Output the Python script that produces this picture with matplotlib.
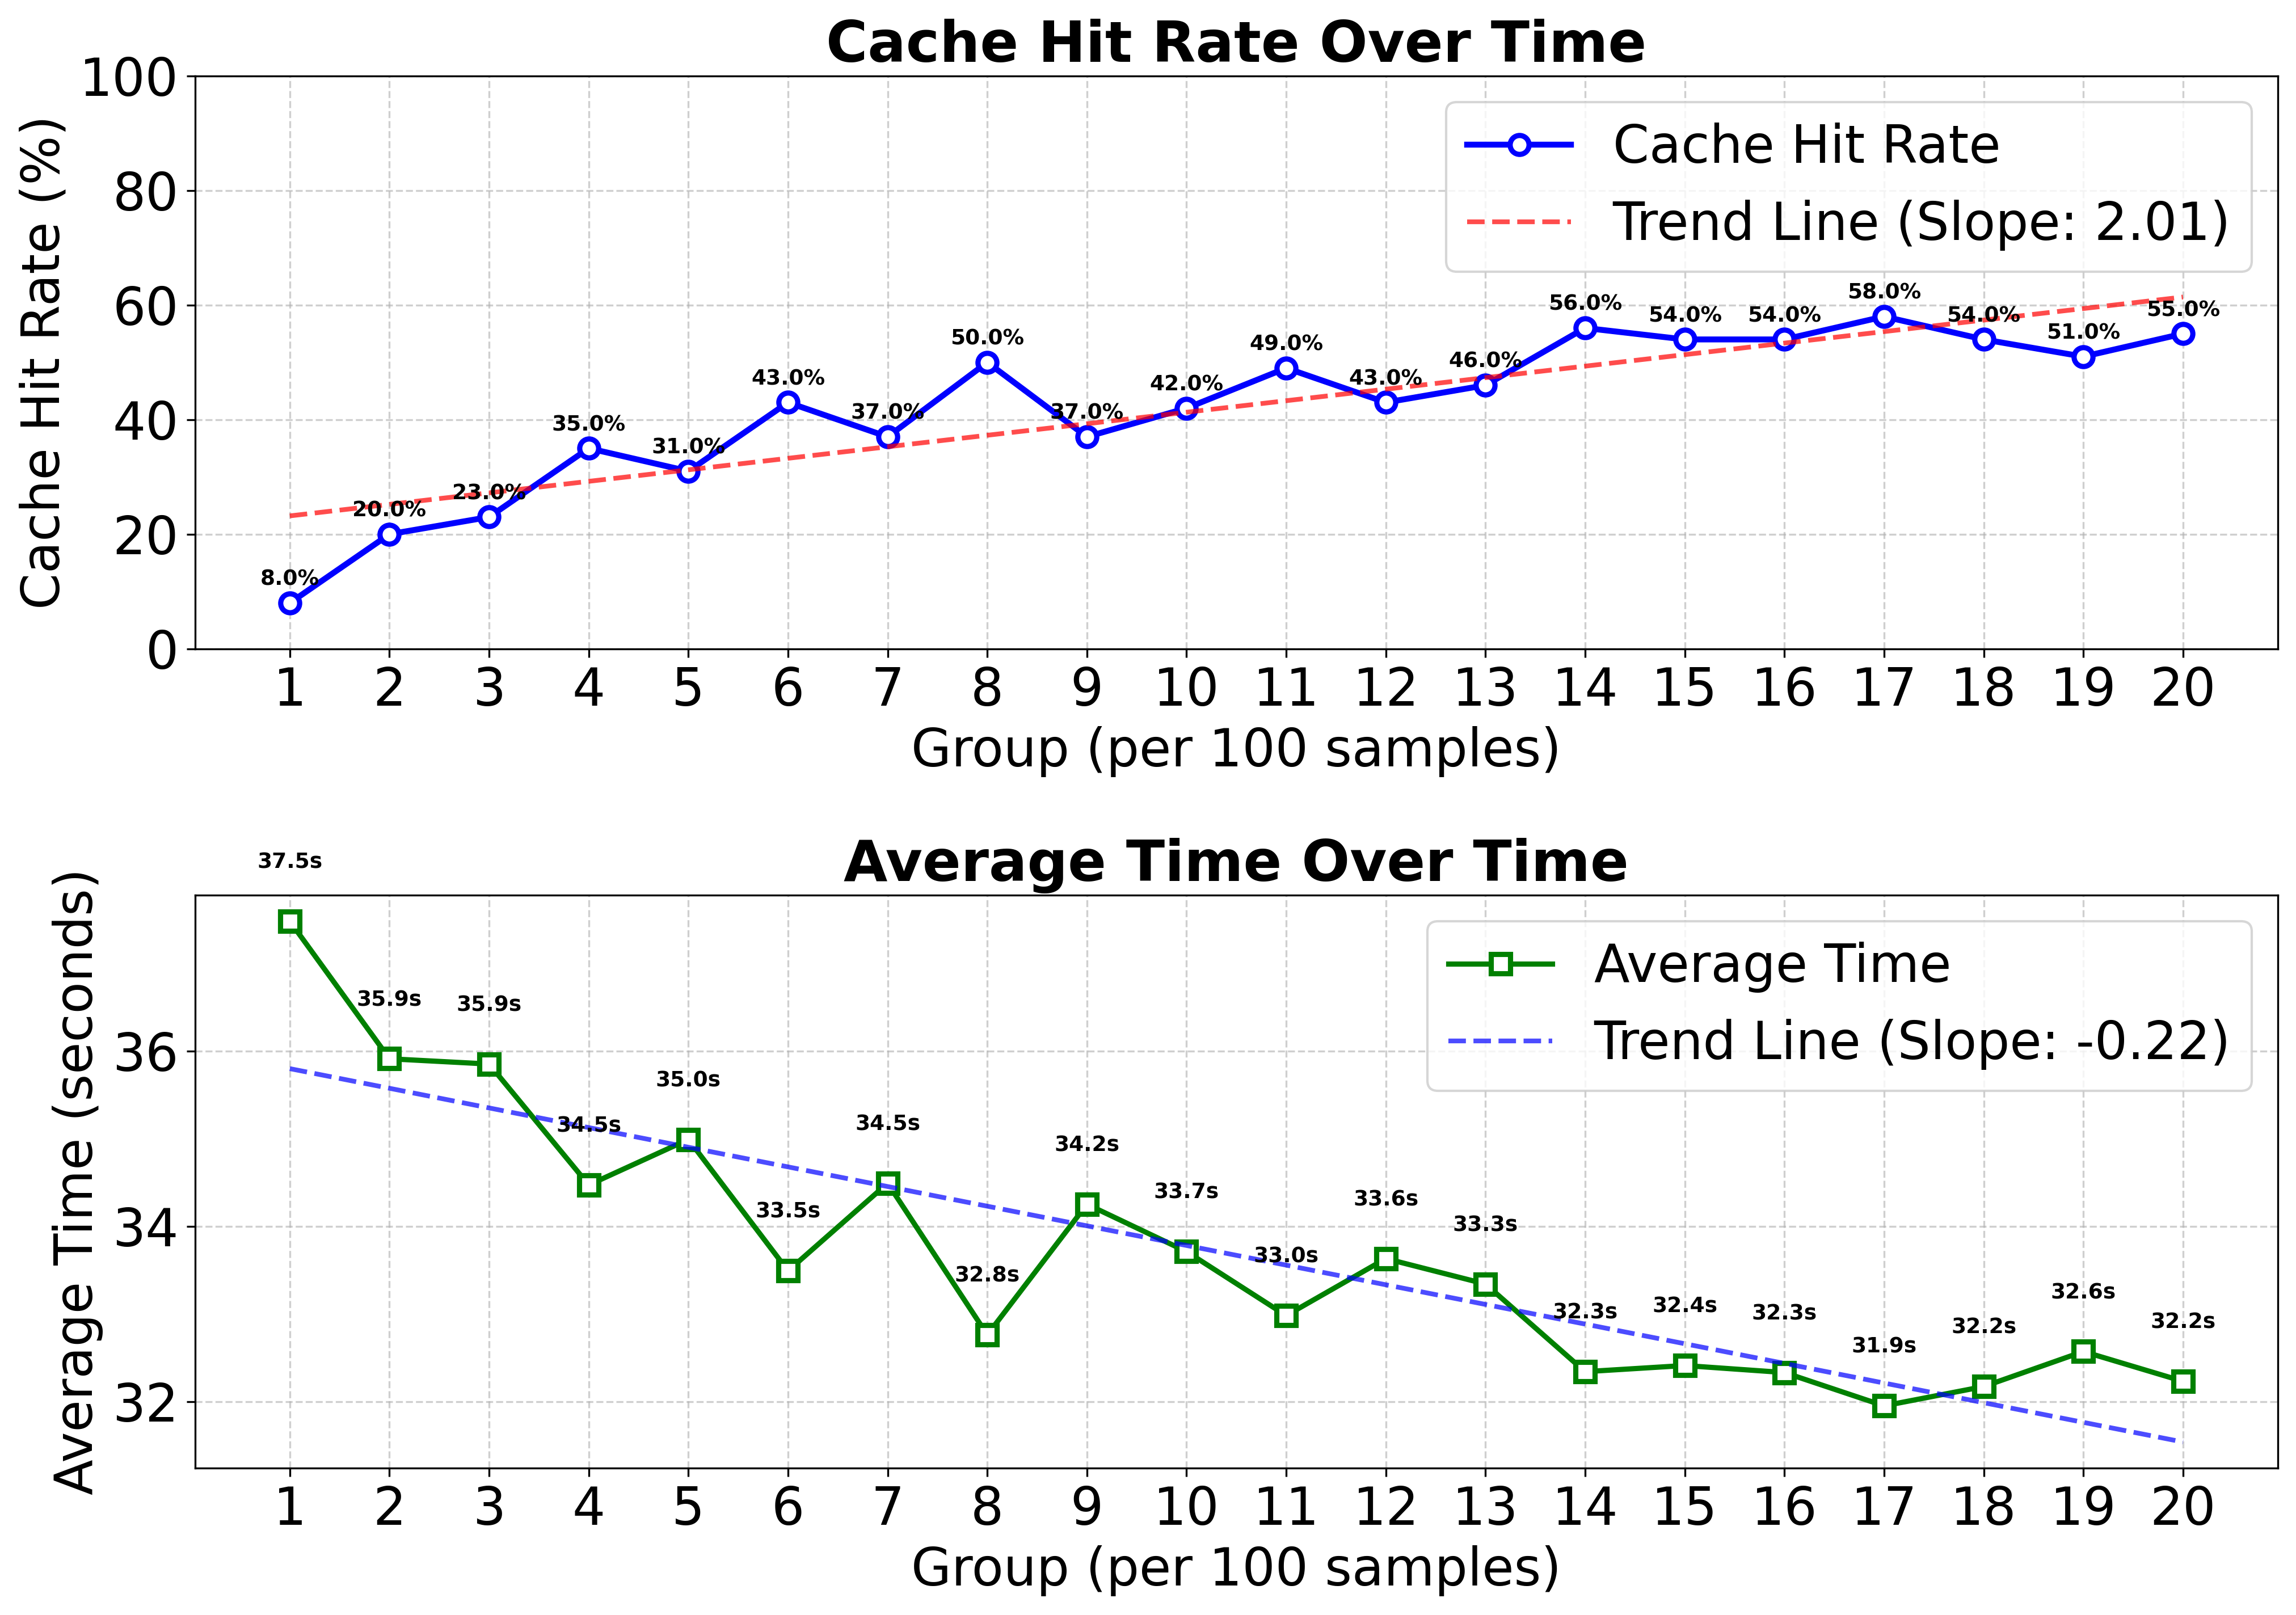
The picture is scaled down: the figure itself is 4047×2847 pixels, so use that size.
import numpy as np
import matplotlib
matplotlib.use("Agg")
import matplotlib.pyplot as plt

# Groups (per 100 samples)
groups = np.arange(1, 21)

# Cache hit rate per group (%)
hit_rate = [8, 20, 23, 35, 31, 43, 37, 50, 37, 42,
            49, 43, 46, 56, 54, 54, 58, 54, 51, 55]

# Average time per group (seconds)
avg_time = [37.48, 35.91, 35.85, 34.47, 34.99, 33.49, 34.49, 32.76, 34.25, 33.71,
            32.98, 33.63, 33.34, 32.34, 32.41, 32.33, 31.95, 32.17, 32.57, 32.23]

fig, (ax1, ax2) = plt.subplots(2, 1, figsize=(13.49, 9.49), dpi=300)
fig.subplots_adjust(left=0.085, right=0.992, top=0.953, bottom=0.091, hspace=0.43)

# --- Cache hit rate ---
ax1.plot(groups, hit_rate, color="blue", marker="o", markersize=8, linewidth=2.5,
         markerfacecolor="white", markeredgewidth=2.2, label="Cache Hit Rate")
slope1, icpt1 = np.polyfit(groups, hit_rate, 1)
ax1.plot(groups, slope1 * groups + icpt1, "r--", alpha=0.7, linewidth=2,
         label=f"Trend Line (Slope: {slope1:.2f})")
for x, y in zip(groups, hit_rate):
    ax1.text(x, y + 2.3, f"{y:.1f}%", ha="center", va="bottom",
             fontsize=9, fontweight="bold")
ax1.set_ylim(0, 100)
ax1.set_title("Cache Hit Rate Over Time", fontsize=24, fontweight="bold")
ax1.set_xlabel("Group (per 100 samples)", fontsize=22)
ax1.set_ylabel("Cache Hit Rate (%)", fontsize=22)
ax1.set_xticks(groups)
ax1.tick_params(labelsize=22)
ax1.grid(True, linestyle="--", alpha=0.6)
ax1.legend(fontsize=22, loc="upper right")

# --- Average time ---
ax2.plot(groups, avg_time, color="green", marker="s", markersize=8, linewidth=2.2,
         markerfacecolor="white", markeredgewidth=2.2, label="Average Time")
slope2, icpt2 = np.polyfit(groups, avg_time, 1)
ax2.plot(groups, slope2 * groups + icpt2, "b--", alpha=0.7, linewidth=2,
         label=f"Trend Line (Slope: {slope2:.2f})")
off = (max(avg_time) - min(avg_time)) * 0.1
for x, y in zip(groups, avg_time):
    ax2.text(x, y + off, f"{y:.1f}s", ha="center", va="bottom",
             fontsize=9, fontweight="bold")
ax2.set_title("Average Time Over Time", fontsize=24, fontweight="bold")
ax2.set_xlabel("Group (per 100 samples)", fontsize=22)
ax2.set_ylabel("Average Time (seconds)", fontsize=22)
ax2.set_xticks(groups)
ax2.tick_params(labelsize=22)
ax2.grid(True, linestyle="--", alpha=0.6)
ax2.legend(fontsize=22, loc="upper right")

plt.savefig("out.png", dpi=300)
